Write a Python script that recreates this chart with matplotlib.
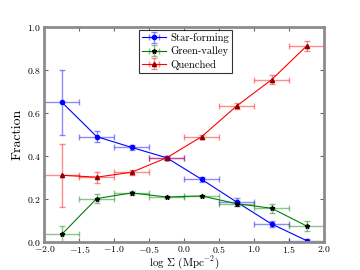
import matplotlib
matplotlib.use("Agg")
import matplotlib.pyplot as plt

plt.rcParams['font.family'] = 'serif'
plt.rcParams['font.serif'] = ['cmr10']
plt.rcParams['mathtext.fontset'] = 'cm'
plt.rcParams['axes.formatter.use_mathtext'] = True
plt.rcParams['axes.unicode_minus'] = True

x = [-1.75, -1.25, -0.75, -0.25, 0.25, 0.75, 1.25, 1.75]
xerr = [0.25] * 8

sf = [0.65, 0.49, 0.44, 0.392, 0.292, 0.187, 0.085, 0.008]
sf_err = [0.15, 0.025, 0.01, 0.01, 0.012, 0.02, 0.015, 0.005]

gv = [0.037, 0.203, 0.229, 0.21, 0.215, 0.179, 0.158, 0.076]
gv_err = [0.04, 0.02, 0.01, 0.006, 0.006, 0.012, 0.02, 0.025]

qu = [0.311, 0.302, 0.325, 0.392, 0.49, 0.632, 0.754, 0.91]
qu_err = [0.145, 0.025, 0.012, 0.01, 0.01, 0.015, 0.02, 0.025]

xticks = [-2.0, -1.5, -1.0, -0.5, 0.0, 0.5, 1.0, 1.5, 2.0]
yticks = [0.0, 0.2, 0.4, 0.6, 0.8, 1.0]

fig = plt.figure(figsize=(3.6, 2.7), dpi=100)
ax = fig.add_axes([44.3/360, 1 - 242.3/270, (324 - 44.3)/360, (242.3 - 26.7)/270])

series = [
    (sf, sf_err, 'blue', 'o', 'Star-forming', 'blue', 3.0),
    (gv, gv_err, 'green', '*', 'Green-valley', 'black', 3.5),
    (qu, qu_err, 'red', '^', 'Quenched', 'darkred', 3.0),
]
for y, ye, c, m, lab, mc, ms in series:
    eb = ax.errorbar(x, y, xerr=xerr, yerr=ye, color=c, ecolor=c, elinewidth=1,
                     capsize=2.5, capthick=1, lw=0.8, marker=m, ms=ms,
                     mfc=mc, mec=mc, label=lab)
    for art in eb[1]:
        art.set_alpha(0.45)
    for art in eb[2]:
        art.set_alpha(0.45)

ax.set_xlim(-2, 2)
ax.set_ylim(0, 1)
ax.set_xticks(xticks)
ax.set_yticks(yticks)
ax.set_xticklabels([f"${v:.1f}$" for v in xticks])
ax.set_yticklabels([f"${v:.1f}$" for v in yticks])
ax.tick_params(direction='in', top=True, right=True, labelsize=7, length=3, color='0.4', width=0.8)
ax.tick_params(axis='x', pad=1.5)
ax.tick_params(axis='y', pad=2.5)
for sp in ax.spines.values():
    sp.set_color('0.55')
    sp.set_linewidth(2)

ax.set_xlabel(r'$\log\,\Sigma\ (\mathrm{Mpc}^{-2})$', fontsize=8, va='center')
ax.xaxis.set_label_coords(0.5, -0.094)
ax.set_ylabel('Fraction', fontsize=10, labelpad=2)

leg = ax.legend(loc='upper center', fontsize=7.7, frameon=True, fancybox=False,
                handlelength=2.2, borderpad=0.3, labelspacing=0.3, handletextpad=0.4,
                borderaxespad=0.3, bbox_to_anchor=(0.505, 1.0))
leg.get_frame().set_edgecolor('black')
leg.get_frame().set_linewidth(0.8)

fig.savefig('out.png', dpi=100)
